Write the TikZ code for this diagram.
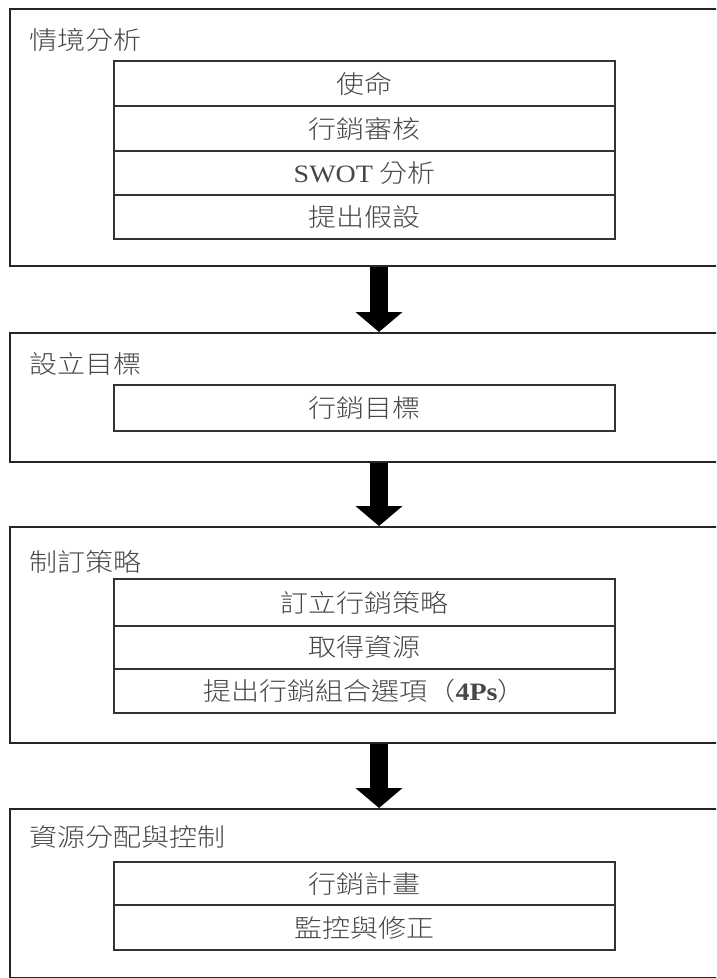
\documentclass[tikz,border=0pt]{standalone}
\usepackage{fontspec}
\newfontfamily\cjk{Noto Sans CJK TC Light}[FakeStretch=1.12]
\newfontfamily\lat{Liberation Serif}[FakeStretch=1.12]
\usetikzlibrary{arrows.meta}
\begin{document}
\begin{tikzpicture}[x=1pt,y=-1pt,
  outer/.style={draw=black!85, line width=2.2pt, rectangle, inner sep=0pt, anchor=north west},
  title/.style={anchor=west, inner sep=0pt, text=black!72, font=\cjk\fontsize{25}{25}\selectfont},
  cell/.style={draw=black!80, line width=1.3pt, rectangle, inner sep=0pt, minimum width=501pt,
    text=black!72, font=\cjk\fontsize{25}{25}\selectfont},
  bigarrow/.style={line width=18pt, black, -{Triangle[width=46pt,length=20pt]}}
]
\useasboundingbox (0,0) rectangle (716,978);
\clip (0,0) rectangle (716,978);
\fill[white] (0,0) rectangle (716,978);

% outer boxes
\node[outer, minimum width=730pt, minimum height=257pt] (b1) at (9,8) {};
\node[outer, minimum width=730pt, minimum height=129pt] (b2) at (9,332) {};
\node[outer, minimum width=730pt, minimum height=216pt] (b3) at (9,526) {};
\node[outer, minimum width=730pt, minimum height=169pt] (b4) at (9,808) {};

% titles
\node[title] (t1) at (29,40) {情境分析};
\node[title] (t2) at (29,364) {設立目標};
\node[title] (t3) at (29,562) {制訂策略};
\node[title] (t4) at (29,837) {資源分配與控制};

% box 1 rows
\node[cell, minimum height=45pt] (r11) at (364.5,83.5) {使命};
\node[cell, minimum height=45pt] (r12) at (364.5,128.5) {行銷審核};
\node[cell, minimum height=44pt] (r13) at (364.5,173) {{\lat SWOT} 分析};
\node[cell, minimum height=44pt] (r14) at (364.5,217) {提出假設};

% box 2 row
\node[cell, minimum height=46pt] (r21) at (364.5,408) {行銷目標};

% box 3 rows
\node[cell, minimum height=47pt] (r31) at (364.5,602.5) {訂立行銷策略};
\node[cell, minimum height=43pt] (r32) at (364.5,647.5) {取得資源};
\node[cell, minimum height=44pt] (r33) at (364.5,691) {提出行銷組合選項（{\lat\bfseries 4Ps}）};

% box 4 rows
\node[cell, minimum height=43pt] (r41) at (364.5,883.5) {行銷計畫};
\node[cell, minimum height=45pt] (r42) at (364.5,927.5) {監控與修正};

% arrows
\coordinate (ax) at (379,0);
\draw[bigarrow] (b1.south -| ax) -- (b2.north -| ax);
\draw[bigarrow] (b2.south -| ax) -- (b3.north -| ax);
\draw[bigarrow] (b3.south -| ax) -- (b4.north -| ax);
\end{tikzpicture}
\end{document}
